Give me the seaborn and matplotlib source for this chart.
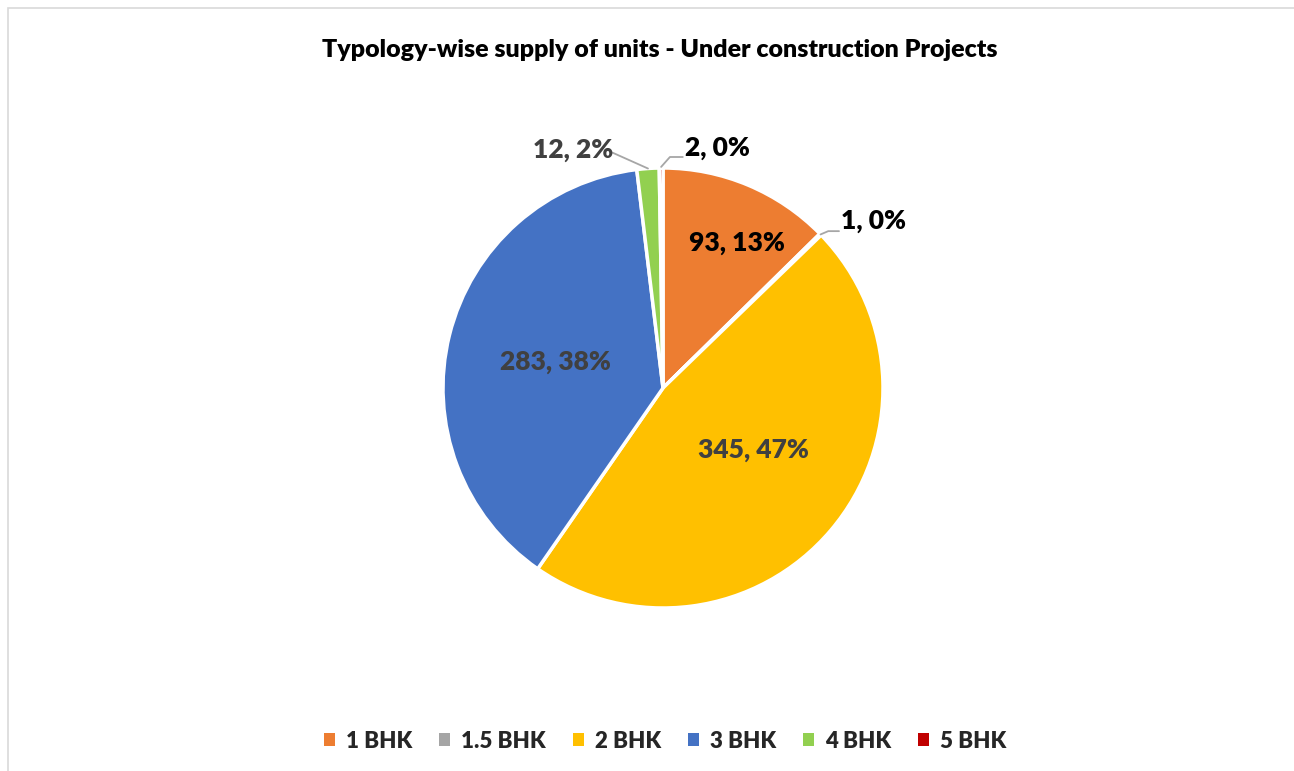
import numpy as np
import matplotlib
matplotlib.use("Agg")
import matplotlib.pyplot as plt
import matplotlib.patches as mpatches
import seaborn as sns

# data
typology = ["1 BHK", "1.5 BHK", "2 BHK", "3 BHK", "4 BHK", "5 BHK"]
units = [93, 1, 345, 283, 12, 2]
colors = ["#ED7D31", "#A5A5A5", "#FFC000", "#4472C4", "#92D050", "#C00000"]

sns.set_theme(style="white")
plt.rcParams['font.family'] = ['Lato', 'DejaVu Sans']

W, H = 1294, 771
fig = plt.figure(figsize=(W / 100, H / 100), dpi=100)
fig.patch.set_facecolor("white")

# chart border (excel chart area)
fig.patches.append(mpatches.Rectangle((8 / W, -0.05), 1.1, 1 - 8 / H + 0.05,
                                      transform=fig.transFigure, fill=False,
                                      edgecolor="#d9d9d9", lw=1.2))

# pie axes: centre (663, 388), radius 220 px
cx, cy, r = 663, 388, 220
ax = fig.add_axes([(cx - r) / W, (H - cy - r) / H, 2 * r / W, 2 * r / H])

wedges, _ = ax.pie(units, colors=colors, startangle=90, counterclock=False,
                   radius=1.0, wedgeprops=dict(edgecolor="white", linewidth=2.5))
ax.set_xlim(-1, 1)
ax.set_ylim(-1, 1)
ax.set_axis_off()

total = sum(units)
labels = [f"{v}, {round(v / total * 100):.0f}%" for v in units]
fs = 19
wt = "heavy"

# label placement (excel best fit)
inside = {0: (0.336, 0.659, "black"), 2: (0.409, -0.282, "#404040"),
          3: (-0.491, 0.118, "#404040")}
for i, (x, y, c) in inside.items():
    ax.text(x, y, labels[i], ha="center", va="center", fontsize=fs,
            fontweight=wt, color=c)

def edge_point(i):
    w = wedges[i]
    a = np.deg2rad((w.theta1 + w.theta2) / 2)
    return np.cos(a), np.sin(a)

lead = "#a6a6a6"
# 1.5 BHK
px, py = edge_point(1)
ax.plot([px, px + 0.035, 0.8], [py, py + 0.015, py + 0.015], color=lead, lw=1.3,
        clip_on=False)
ax.text(0.81, py + 0.06, labels[1], ha="left", va="center", fontsize=fs,
        fontweight=wt, color="black")
# 4 BHK
px, py = edge_point(4)
ax.plot([px, -0.23], [py, 1.07], color=lead, lw=1.3, clip_on=False)
ax.text(-0.225, 1.08, labels[4], ha="right", va="center", fontsize=fs,
        fontweight=wt, color="#404040")
# 5 BHK
px, py = edge_point(5)
ax.plot([px, px + 0.04, 0.09], [py + 0.005, 1.05, 1.05], color=lead, lw=1.3,
        clip_on=False)
ax.text(0.10, 1.09, labels[5], ha="left", va="center", fontsize=fs,
        fontweight=wt, color="black")

fig.text(660 / W, 1 - 50 / H, "Typology-wise supply of units - Under construction Projects",
         ha="center", va="center", fontsize=18, fontweight=wt, color="black")

handles = [mpatches.Patch(facecolor=c, edgecolor="none") for c in colors]
fig.legend(handles, typology, loc="center", bbox_to_anchor=(665 / W, 1 - 741 / H),
           ncol=6, frameon=False, prop=dict(weight=wt, size=16),
           handlelength=0.5, handleheight=0.5, handletextpad=0.5, columnspacing=1.2)

fig.savefig("out.png", dpi=100)
